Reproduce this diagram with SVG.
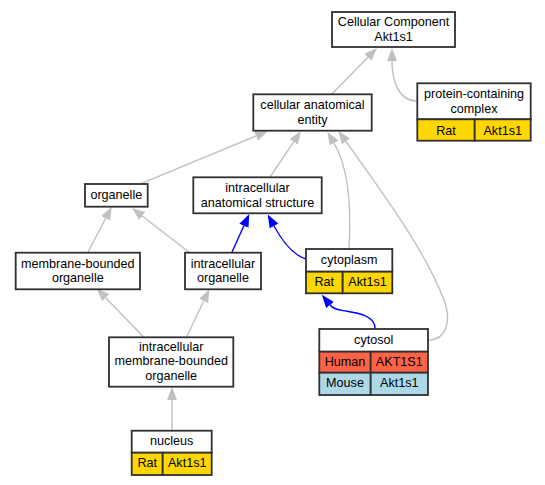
<svg xmlns="http://www.w3.org/2000/svg" width="545" height="485" viewBox="0 0 545 485">
<style>
text{font-family:"Liberation Sans",Arial,sans-serif;font-size:12.6px;fill:#000;text-anchor:middle}
.box{fill:#fff;stroke:#303030;stroke-width:1.8}
.gold{fill:#FFD700;stroke:#303030;stroke-width:1.8}
.tomato{fill:#FF6347;stroke:#303030;stroke-width:1.8}
.blue{fill:#ADD8E6;stroke:#303030;stroke-width:1.8}
.e{fill:none;stroke:#c0c0c0;stroke-width:1.4;marker-end:url(#ag)}
.b{fill:none;stroke:#0000ff;stroke-width:1.4;marker-end:url(#ab)}
</style>
<defs>
<marker id="ag" markerUnits="userSpaceOnUse" viewBox="0 0 13 10" refX="0" refY="5" markerWidth="13" markerHeight="10" orient="auto"><path d="M0,0 L13,5 L0,10 z" fill="#c0c0c0"/></marker>
<marker id="ab" markerUnits="userSpaceOnUse" viewBox="0 0 13 10" refX="0" refY="5" markerWidth="13" markerHeight="10" orient="auto"><path d="M0,0 L13,5 L0,10 z" fill="#0000ff"/></marker>
</defs>
<rect width="545" height="485" fill="#fff"/>
<g id="edges">
<path class="e" d="M331.7,94.3 L367.9,57.3"/>
<path class="e" d="M417,101 C398,101 392,80 392,61"/>
<path class="e" d="M141.7,183.3 L256,136"/>
<path class="e" d="M270,177 L293.7,141.8"/>
<path class="e" d="M349,249 C351,215 350,170 334,143"/>
<path class="e" d="M428,340 C446,340 452,322 444,300 C425,250 382,192 346,141.5"/>
<path class="e" d="M88,252 L105.7,218.2"/>
<path class="e" d="M190,253 L142.3,216"/>
<path class="b" d="M231.7,252.7 L243.9,225.8"/>
<path class="b" d="M306,259 C296,256 285,246 274,226"/>
<path class="b" d="M375,329 C376,316 358,313 346,311 C340,310 334,310 330,305"/>
<path class="e" d="M143.3,336.7 L105.7,297.7"/>
<path class="e" d="M186.7,336.7 L203.7,301"/>
<path class="e" d="M172,430 L172,400"/>
</g>
<g id="cc">
<rect class="box" x="332" y="12" width="123" height="35"/>
<text x="393.5" y="26.15">Cellular Component<tspan x="393.5" dy="14.6">Akt1s1</tspan></text>
</g>
<g id="pcc">
<rect class="box" x="417.3" y="83.3" width="113.4" height="36"/>
<rect class="gold" x="417.3" y="119.3" width="57.4" height="21.4"/>
<rect class="gold" x="474.7" y="119.3" width="56" height="21.4"/>
<text x="474" y="97.95">protein-containing<tspan x="474" dy="14.6">complex</tspan></text>
<text x="446" y="134.5">Rat</text>
<text x="502.7" y="134.5">Akt1s1</text>
</g>
<g id="cae">
<rect class="box" x="253.3" y="94.3" width="118.4" height="36.4"/>
<text x="312.5" y="109.15">cellular anatomical<tspan x="312.5" dy="14.6">entity</tspan></text>
</g>
<g id="organelle">
<rect class="box" x="85" y="184" width="62.7" height="22.7"/>
<text x="116.3" y="199.3">organelle</text>
</g>
<g id="ias">
<rect class="box" x="193.3" y="177.3" width="128.4" height="36"/>
<text x="257.5" y="191.95">intracellular<tspan x="257.5" dy="14.6">anatomical structure</tspan></text>
</g>
<g id="mbo">
<rect class="box" x="15.7" y="252.7" width="124.3" height="36.6"/>
<text x="77.8" y="267.65">membrane-bounded<tspan x="77.8" dy="14.6">organelle</tspan></text>
</g>
<g id="io">
<rect class="box" x="185" y="252.7" width="76" height="36.6"/>
<text x="223" y="267.65">intracellular<tspan x="223" dy="14.6">organelle</tspan></text>
</g>
<g id="cytoplasm">
<rect class="box" x="306" y="249" width="86.3" height="22.7"/>
<rect class="gold" x="306" y="271.7" width="36.7" height="21.6"/>
<rect class="gold" x="342.7" y="271.7" width="49.6" height="21.6"/>
<text x="349.2" y="263.8">cytoplasm</text>
<text x="324.3" y="286">Rat</text>
<text x="367.5" y="286">Akt1s1</text>
</g>
<g id="imbo">
<rect class="box" x="109" y="337.3" width="124.3" height="49.4"/>
<text x="171.2" y="350.7">intracellular<tspan x="171.2" dy="14.6">membrane-bounded</tspan><tspan x="171.2" dy="14.6">organelle</tspan></text>
</g>
<g id="cytosol">
<rect class="box" x="319.3" y="329" width="108.7" height="22.7"/>
<rect class="tomato" x="319.3" y="351.7" width="51.4" height="21"/>
<rect class="tomato" x="370.7" y="351.7" width="57.3" height="21"/>
<rect class="blue" x="319.3" y="372.7" width="51.4" height="22.3"/>
<rect class="blue" x="370.7" y="372.7" width="57.3" height="22.3"/>
<text x="373.7" y="343.8">cytosol</text>
<text x="345" y="365.7">Human</text>
<text x="399.3" y="365.7">AKT1S1</text>
<text x="345" y="387.3">Mouse</text>
<text x="399.3" y="387.3">Akt1s1</text>
</g>
<g id="nucleus">
<rect class="box" x="131.7" y="430.7" width="80" height="22"/>
<rect class="gold" x="131.7" y="452.7" width="31" height="22.3"/>
<rect class="gold" x="162.7" y="452.7" width="49" height="22.3"/>
<text x="171.7" y="445.2">nucleus</text>
<text x="147.2" y="467.3">Rat</text>
<text x="187.2" y="467.3">Akt1s1</text>
</g>
</svg>
